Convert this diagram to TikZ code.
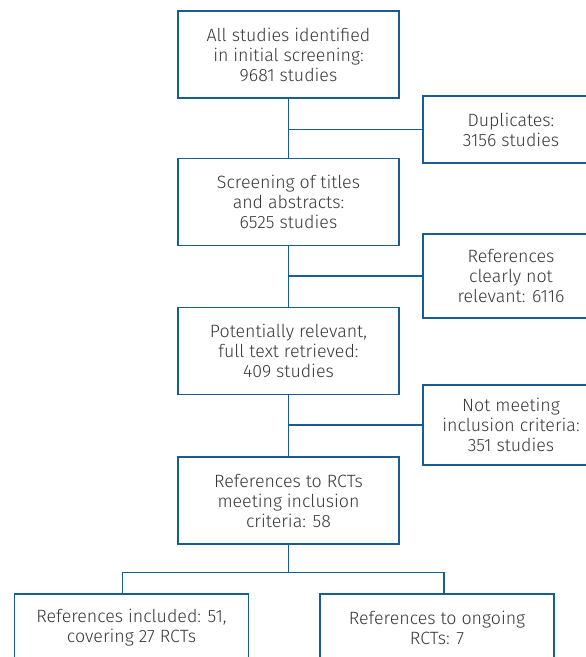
\documentclass[tikz,border=0pt]{standalone}
\usepackage{fontspec}
\setmainfont{Fira Sans Light}
\usepackage{tikz}
\usetikzlibrary{calc}
\definecolor{boxblue}{RGB}{22,92,152}
\definecolor{txtgrey}{RGB}{55,55,55}
\tikzset{box/.style={draw=boxblue,line width=1.6pt,align=center,inner sep=0pt,text=txtgrey,font=\fontsize{17.8}{20}\selectfont}}
\tikzset{mainbox/.style={box,minimum width=221pt,minimum height=87pt}}
\tikzset{sidebox/.style={box,minimum width=176pt}}
\tikzset{endbox/.style={box,minimum width=234pt,minimum height=68pt}}
\tikzset{link/.style={draw=boxblue,line width=1.3pt}}

\begin{document}
\begin{tikzpicture}[x=1pt,y=-1pt]
\useasboundingbox (0,0) rectangle (586,657);
\clip (0,0) rectangle (586,657);
% main column
\node[mainbox] (all) at (288.5,54.5) {All studies identified\\in initial screening:\\9681 studies};
\node[mainbox] (screen) at (288.5,202) {Screening of titles\\and abstracts:\\6525 studies};
\node[mainbox] (full) at (288.5,351) {Potentially relevant,\\full text retrieved:\\409 studies};
\node[mainbox] (rcts) at (288.5,500.5) {References to RCTs\\meeting inclusion\\criteria: 58};
% exclusions
\node[sidebox,minimum height=67pt] (dup) at (511,129.5) {Duplicates:\\3156 studies};
\node[sidebox,minimum height=84pt] (notrel) at (511,276) {References\\clearly not\\relevant: 6116};
\node[sidebox,minimum height=80pt] (notmeet) at (511,425) {Not meeting\\inclusion criteria:\\351 studies};
% final split
\node[endbox] (incl) at (131.5,628) {References included: 51,\\covering 27 RCTs};
\node[endbox] (ongo) at (437,628) {References to ongoing\\RCTs: 7};
\draw[link] (all) -- (screen);\draw[link] (screen) -- (full);\draw[link] (full) -- (rcts);
\draw[link] (dup.west) -- (dup.west -| all.south);
\draw[link] (notrel.west) -- (notrel.west -| screen.south);
\draw[link] (notmeet.west) -- (notmeet.west -| full.south);
\draw[link] (rcts.south) -- ++(0,28) coordinate (fork);
\draw[link] ([xshift=-9pt]incl.north) |- (fork) -| ([xshift=7pt]ongo.north);
\end{tikzpicture}
\end{document}
